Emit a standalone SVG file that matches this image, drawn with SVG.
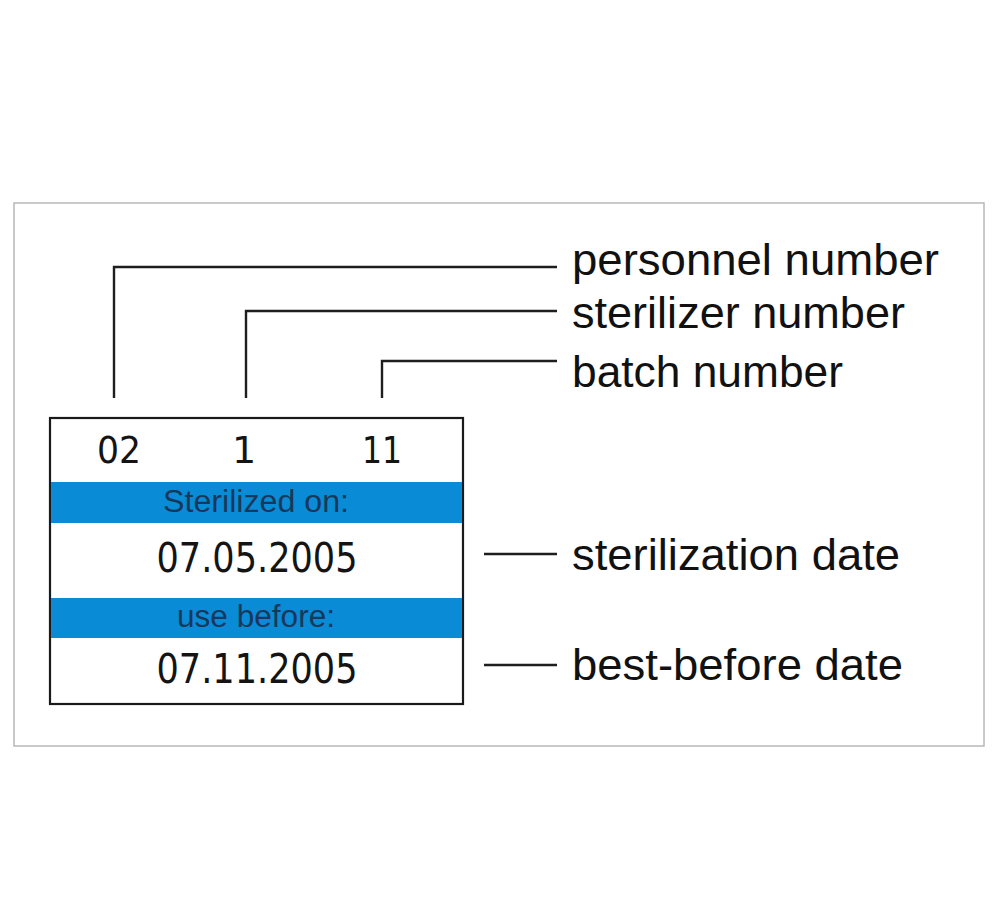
<svg xmlns="http://www.w3.org/2000/svg" width="1001" height="902" viewBox="0 0 1001 902">
<style>
.frame{fill:#fff;stroke:#b8b8b8;stroke-width:1.5}
.card{fill:#fff;stroke:#1a1a1a;stroke-width:2.2}
.band{fill:#0a8bd6}
.lead{fill:none;stroke:#1e1e1e;stroke-width:2.4}
.lbl{font-family:"Liberation Sans",Arial,sans-serif;font-size:44px;fill:#111}
.num{font-family:"DejaVu Sans",Verdana,sans-serif;font-size:38px;fill:#141414;text-anchor:middle}
.date{font-family:"DejaVu Sans",Verdana,sans-serif;font-size:40px;fill:#141414;text-anchor:middle}
.bandtxt{font-family:"Liberation Sans",Arial,sans-serif;font-size:31px;fill:#17385a;text-anchor:middle}
</style>
<rect width="1001" height="902" fill="#fff"/>
<rect class="frame" x="14" y="203" width="970" height="543"/>
<g id="card">
<rect class="card" x="50" y="418" width="413" height="286"/>
<rect class="band" x="51" y="482" width="411" height="41"/>
<rect class="band" x="51" y="598" width="411" height="40"/>
<text class="num" x="119" y="463" textLength="44" lengthAdjust="spacingAndGlyphs">02</text>
<text class="num" x="244" y="463">1</text>
<text class="num" x="382" y="463" textLength="40" lengthAdjust="spacingAndGlyphs">11</text>
<text class="bandtxt" x="256" y="512" textLength="186" lengthAdjust="spacingAndGlyphs">Sterilized on:</text>
<text class="date" x="257" y="572" textLength="201" lengthAdjust="spacingAndGlyphs">07.05.2005</text>
<text class="bandtxt" x="256" y="627" textLength="158" lengthAdjust="spacingAndGlyphs">use before:</text>
<text class="date" x="257" y="683" textLength="201" lengthAdjust="spacingAndGlyphs">07.11.2005</text>
</g>
<g id="connectors">
<polyline class="lead" points="114,398 114,267 557,267"/>
<polyline class="lead" points="246,398 246,311 557,311"/>
<polyline class="lead" points="382,398 382,361 557,361"/>
<line class="lead" x1="484" y1="554" x2="557" y2="554"/>
<line class="lead" x1="484" y1="665" x2="557" y2="665"/>
</g>
<g id="labels">
<text id="personnel" class="lbl" x="572" y="275" textLength="367" lengthAdjust="spacingAndGlyphs">personnel number</text>
<text id="sterilizer" class="lbl" x="572" y="328" textLength="333" lengthAdjust="spacingAndGlyphs">sterilizer number</text>
<text id="batch" class="lbl" x="572" y="387" textLength="271" lengthAdjust="spacingAndGlyphs">batch number</text>
<text id="sterdate" class="lbl" x="572" y="570" textLength="328" lengthAdjust="spacingAndGlyphs">sterilization date</text>
<text id="bbdate" class="lbl" x="572" y="680" textLength="331" lengthAdjust="spacingAndGlyphs">best-before date</text>
</g>
</svg>
